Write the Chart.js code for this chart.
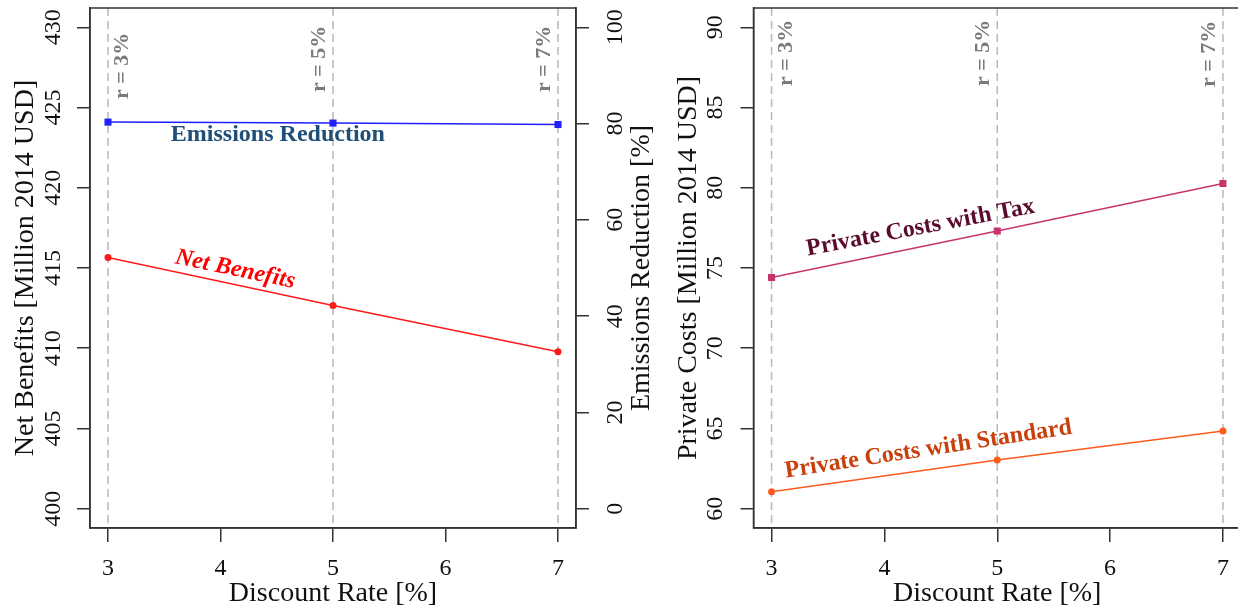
<!DOCTYPE html>
<html>
<head>
<meta charset="utf-8">
<script src="https://cdn.jsdelivr.net/npm/chart.js@4.4.1/dist/chart.umd.min.js"></script>
<style>
  html, body { margin: 0; padding: 0; background: #fff; overflow: hidden; }
  #wrap { position: relative; width: 1238px; height: 611px; overflow: hidden; }
  #netChart { position: absolute; left: 0; top: 0; }
  #costChart { position: absolute; left: 660px; top: 0; }
</style>
</head>
<body>
<div id="wrap">
  <canvas id="netChart" width="660" height="611"></canvas>
  <canvas id="costChart" width="600" height="611"></canvas>
</div>
<script>
const discountRates = [3, 5, 7];
const netBenefits = [415.65, 412.67, 409.78];
const emissionsReduction = [80.3, 80.1, 79.8];
const costsWithTax = [74.41, 77.31, 80.27];
const costsWithStandard = [61.06, 63.04, 64.84];

const rateTicks = [3, 4, 5, 6, 7];
const netTicks = [400, 405, 410, 415, 420, 425, 430];
const emissionTicks = [0, 20, 40, 60, 80, 100];
const costTicks = [60, 65, 70, 75, 80, 85, 90];

const serif = '"Liberation Serif", "Times New Roman", serif';
const axisColor = '#333';
const textColor = '#111';

// widen each range by 4% on both ends, same as base R
function padded(ticks) {
  const lo = ticks[0], hi = ticks[ticks.length - 1];
  const pad = (hi - lo) * 0.04;
  return { min: lo - pad, max: hi + pad };
}

function points(ys) {
  return discountRates.map((x, i) => ({ x: x, y: ys[i] }));
}

const tickGrid = { drawOnChartArea: false, drawTicks: true, tickLength: 13, color: axisColor, lineWidth: 1.5 };
const axisBorder = { display: true, color: axisColor, width: 1.5 };

// fixed axis thickness, and no extra room reserved for overhanging labels
function fixSize(prop, size) {
  return s => {
    s[prop] = size;
    s.paddingTop = 0;
    s.paddingBottom = 0;
    s.paddingLeft = 0;
    s.paddingRight = 0;
  };
}

function yAxis(ticks, position, width, labelPad, title, titlePad) {
  const range = padded(ticks);
  return {
    type: 'linear',
    position: position,
    min: range.min,
    max: range.max,
    afterBuildTicks: s => { s.ticks = ticks.map(v => ({ value: v })); },
    afterFit: fixSize('width', width),
    grid: tickGrid,
    border: axisBorder,
    ticks: {
      autoSkip: false, minRotation: 90, maxRotation: 90, crossAlign: 'center',
      padding: labelPad, color: textColor, font: { family: serif, size: 24 }
    },
    title: title ? {
      display: true, text: title, color: textColor,
      font: { family: serif, size: 28 }, padding: { top: titlePad, bottom: 0 }
    } : { display: false }
  };
}

function xAxis() {
  const range = padded(rateTicks);
  return {
    type: 'linear',
    position: 'bottom',
    min: range.min,
    max: range.max,
    afterBuildTicks: s => { s.ticks = rateTicks.map(v => ({ value: v })); },
    afterFit: fixSize('height', 83),
    grid: Object.assign({}, tickGrid, { tickLength: 14 }),
    border: axisBorder,
    ticks: { autoSkip: false, maxRotation: 0, padding: 12, color: textColor, font: { family: serif, size: 24 } },
    title: {
      display: true, text: 'Discount Rate [%]', color: textColor,
      font: { family: serif, size: 28 }, padding: { top: 0, bottom: 1 }
    }
  };
}

function lineSet(label, ys, axis, color, style) {
  return {
    label: label,
    data: points(ys),
    yAxisID: axis,
    borderColor: color,
    backgroundColor: color,
    borderWidth: 1.5,
    pointStyle: style,
    pointRadius: style === 'rect' ? 5 : 3.5,
    pointBorderWidth: 0
  };
}

// dashed rate markers, "r = x%" tags, frame, in-plot series names
const overlayPlugin = {
  id: 'overlay',
  beforeDatasetsDraw(chart) {
    const { ctx, chartArea: a, scales } = chart;
    ctx.save();
    ctx.strokeStyle = '#b8b8b8';
    ctx.lineWidth = 1.5;
    ctx.setLineDash([8, 5]);
    discountRates.forEach(r => {
      const px = scales.x.getPixelForValue(r);
      ctx.beginPath();
      ctx.moveTo(px, a.top);
      ctx.lineTo(px, a.bottom);
      ctx.stroke();
    });
    ctx.restore();
  },
  afterDraw(chart, args, opts) {
    const { ctx, chartArea: a, scales } = chart;
    ctx.save();
    ctx.strokeStyle = axisColor;
    ctx.lineWidth = 1.5;
    ctx.strokeRect(a.left, a.top, a.right - a.left, a.bottom - a.top);

    ctx.font = 'bold 22px ' + serif;
    ctx.fillStyle = '#7a7a7a';
    ctx.textBaseline = 'middle';
    ctx.textAlign = 'left';
    discountRates.forEach((r, i) => {
      ctx.save();
      ctx.translate(scales.x.getPixelForValue(r) + opts.rateShift[i], a.top + opts.rateDrop[i]);
      ctx.rotate(-Math.PI / 2);
      ctx.fillText('r = ' + r + '%', 0, 0);
      ctx.restore();
    });

    opts.labels.forEach(l => {
      ctx.save();
      ctx.translate(scales.x.getPixelForValue(l.x), scales[l.axis].getPixelForValue(l.y));
      ctx.rotate(l.angle * Math.PI / 180);
      ctx.font = (l.italic ? 'italic ' : '') + 'bold 24px ' + serif;
      ctx.fillStyle = l.color;
      ctx.textAlign = 'center';
      ctx.fillText(l.text, 0, 0);
      ctx.restore();
    });

    if (opts.sideTitle) {
      ctx.save();
      ctx.translate(a.right + opts.sideTitle.offset, (a.top + a.bottom) / 2);
      ctx.rotate(-Math.PI / 2);
      ctx.font = '28px ' + serif;
      ctx.fillStyle = textColor;
      ctx.textAlign = 'center';
      ctx.fillText(opts.sideTitle.text, 0, 0);
      ctx.restore();
    }
    ctx.restore();
  }
};

new Chart(document.getElementById('netChart'), {
  type: 'line',
  data: {
    datasets: [
      lineSet('Net Benefits', netBenefits, 'y', '#ff1a1a', 'circle'),
      lineSet('Emissions Reduction', emissionsReduction, 'y1', '#1f1fff', 'rect')
    ]
  },
  options: {
    responsive: false,
    animation: false,
    events: [],
    layout: { padding: { top: 8, left: 0, right: 0, bottom: 0 } },
    scales: {
      x: xAxis(),
      y: yAxis(netTicks, 'left', 90, 5, 'Net Benefits [Million 2014 USD]', 9),
      y1: yAxis(emissionTicks, 'right', 84, 9, null, 0)
    },
    plugins: {
      legend: { display: false },
      tooltip: { enabled: false },
      overlay: {
        rateShift: [14.5, -13.5, -13.5],
        rateDrop: [91, 84, 84],
        labels: [
          { text: 'Net Benefits', x: 4.13, y: 414.9, axis: 'y', angle: 11.7, color: '#ff0000', italic: true },
          { text: 'Emissions Reduction', x: 4.51, y: 77.6, axis: 'y1', angle: 0, color: '#1f4e79' }
        ],
        sideTitle: { text: 'Emissions Reduction [%]', offset: 66 }
      }
    }
  },
  plugins: [overlayPlugin]
});

new Chart(document.getElementById('costChart'), {
  type: 'line',
  data: {
    datasets: [
      lineSet('Private Costs with Tax', costsWithTax, 'y', '#c8336e', 'rect'),
      lineSet('Private Costs with Standard', costsWithStandard, 'y', '#ff5a1e', 'circle')
    ]
  },
  options: {
    responsive: false,
    animation: false,
    events: [],
    layout: { padding: { top: 8, left: 0, right: 19, bottom: 0 } },
    scales: {
      x: xAxis(),
      y: yAxis(costTicks, 'left', 93.5, 12.5, 'Private Costs [Million 2014 USD]', 12)
    },
    plugins: {
      legend: { display: false },
      tooltip: { enabled: false },
      overlay: {
        rateShift: [14.5, -13.5, -13.5],
        rateDrop: [78, 78, 79],
        labels: [
          { text: 'Private Costs with Tax', x: 4.32, y: 77.5, axis: 'y', angle: -10.7, color: '#5b0b2e' },
          { text: 'Private Costs with Standard', x: 4.39, y: 63.7, axis: 'y', angle: -8.7, color: '#c8400c' }
        ]
      }
    }
  },
  plugins: [overlayPlugin]
});
</script>
</body>
</html>
